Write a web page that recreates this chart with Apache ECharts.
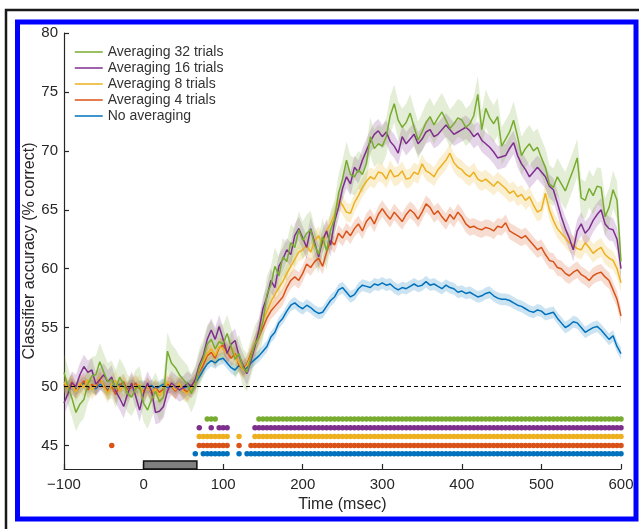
<!DOCTYPE html>
<html>
<head>
<meta charset="utf-8">
<script src="https://cdn.jsdelivr.net/npm/echarts@6/dist/echarts.min.js"></script>
<style>
html,body{margin:0;padding:0;background:#fff;}
#chart{width:639px;height:529px;}
</style>
</head>
<body>
<div id="chart"></div>
<script>
// ---- data ----
const times = [];
for (let t = -100; t <= 600; t += 5) times.push(t);

const xTicks = [-100, 0, 100, 200, 300, 400, 500, 600];
const yTicks = [45, 50, 55, 60, 65, 70, 75, 80];

const seriesNames = ['Averaging 32 trials', 'Averaging 16 trials', 'Averaging 8 trials', 'Averaging 4 trials', 'No averaging'];

const avg32 = [
51.2,50.0,49.0,47.8,48.5,48.9,50.2,50.9,51.0,52.1,51.2,50.4,50.6,49.8,50.8,50.2,49.4,49.1,49.8,50.1,
48.6,48.0,48.9,49.6,48.7,49.1,53.0,52.0,51.6,51.0,50.6,50.2,49.4,50.2,51.6,52.4,53.6,54.0,53.2,53.8,
53.6,54.5,53.4,52.3,52.8,51.6,51.2,52.5,53.6,54.2,55.5,57.8,58.6,60.2,59.4,61.0,60.6,62.2,61.8,63.3,
62.4,63.0,63.3,62.0,61.2,62.7,61.5,63.3,64.2,66.4,67.6,69.2,68.0,67.8,68.4,68.0,68.9,71.2,70.2,70.6,
70.4,71.2,73.0,74.0,72.6,72.0,72.4,73.2,72.0,70.9,71.6,72.4,72.9,72.2,72.8,73.3,72.6,71.9,72.3,72.8,
72.6,72.0,72.3,73.0,74.8,71.8,73.6,72.8,72.3,72.9,70.4,71.0,71.6,72.6,71.2,69.6,70.2,70.6,70.0,70.3,
69.4,68.6,67.2,66.9,67.8,67.2,66.6,67.5,68.4,69.4,66.0,65.8,66.8,66.2,67.0,66.9,64.4,65.2,66.7,65.8,
60.6];

const avg16 = [
48.6,49.4,50.3,50.0,51.0,51.7,51.2,51.4,50.2,50.6,51.0,50.4,50.8,49.6,49.0,48.3,49.4,50.3,49.2,48.0,
49.4,50.3,49.6,47.8,47.9,48.3,49.6,50.3,50.0,49.7,49.9,50.3,50.0,50.6,51.8,52.6,54.0,54.8,54.0,55.1,
54.0,52.8,53.6,53.9,52.6,51.8,51.1,52.2,53.4,54.8,56.6,57.6,59.0,58.4,60.2,60.8,61.6,61.2,62.8,63.4,
62.6,61.8,63.4,62.2,61.0,62.4,63.2,62.0,64.0,65.2,66.8,67.8,67.2,68.6,68.2,69.2,70.0,70.8,71.4,71.7,
71.2,71.6,70.8,70.4,69.8,71.2,70.6,71.0,71.4,70.6,71.0,71.6,71.8,71.2,71.4,71.8,72.2,71.8,71.4,71.6,
71.8,72.0,71.7,71.2,71.5,70.9,70.6,70.3,69.9,69.4,69.5,69.6,70.2,70.7,69.6,68.9,68.4,67.8,68.2,68.6,
68.2,67.8,67.0,66.7,65.6,64.4,63.4,62.6,61.6,63.2,63.8,63.0,63.4,64.1,64.6,65.0,63.8,63.4,63.3,62.5,
60.0];

const avg8 = [
50.4,49.8,50.2,49.5,50.3,49.9,50.6,49.7,50.1,50.8,50.0,49.4,50.2,50.5,49.6,50.1,49.5,50.3,49.8,50.2,
49.4,50.0,49.5,49.8,49.2,49.6,50.4,50.1,49.7,50.3,49.6,49.4,49.9,50.3,51.4,52.2,52.8,53.2,52.6,53.4,
53.2,52.8,53.3,52.6,52.0,51.4,51.8,52.6,53.6,54.4,55.6,56.4,57.2,57.8,58.4,58.9,59.6,60.2,60.8,61.4,
61.6,62.0,61.4,62.4,62.8,62.0,63.2,63.8,64.6,65.8,65.4,64.8,64.7,65.6,66.2,66.9,67.4,67.8,67.6,68.2,
68.1,67.6,68.4,67.8,67.9,68.3,67.6,67.7,68.2,68.0,68.9,68.3,68.1,67.8,68.4,68.8,69.2,69.8,69.0,68.6,
68.4,68.0,67.8,68.2,67.6,67.4,67.6,67.3,67.0,67.4,67.1,66.8,66.4,66.6,66.1,66.3,65.8,66.1,65.4,64.8,
65.0,66.4,65.0,64.1,63.4,63.0,62.6,62.2,62.0,61.7,61.6,62.2,61.8,61.3,61.6,61.8,61.2,60.9,60.7,60.0,
58.8];

const avg4 = [
50.2,49.8,50.4,49.6,50.0,50.5,49.7,50.2,49.9,50.6,50.1,49.6,50.0,49.3,50.1,50.4,49.7,49.9,50.3,49.8,
49.6,50.1,49.4,49.9,49.5,49.8,50.2,50.0,49.6,50.1,49.8,49.5,50.0,50.4,51.2,51.8,52.6,52.9,52.4,53.3,
53.5,52.9,52.4,52.8,51.8,51.5,51.9,52.8,53.6,54.2,55.0,55.8,56.4,56.8,57.2,57.6,58.4,59.0,59.3,59.0,
59.6,60.4,60.1,60.6,60.9,60.2,61.4,62.4,62.0,63.0,62.6,63.2,62.8,63.4,63.8,63.2,64.0,64.4,63.8,64.6,
65.1,64.6,64.2,64.8,64.4,64.0,64.6,65.0,64.7,64.2,64.8,65.5,65.2,64.6,64.9,64.4,64.0,64.6,64.2,64.8,
64.4,63.8,63.5,63.6,63.4,63.3,63.5,63.4,63.2,63.6,63.5,63.9,63.2,63.0,62.8,62.6,62.8,62.4,62.0,61.6,
61.8,61.2,60.7,60.6,60.1,60.0,59.6,59.4,59.7,59.9,59.5,59.3,59.0,59.4,59.6,59.7,59.3,59.0,58.2,57.4,
56.0];

const avg1 = [
50.1,49.9,50.2,49.8,50.0,50.3,49.9,50.1,49.8,50.2,50.0,49.7,50.1,49.9,50.2,50.0,49.8,50.1,49.9,50.0,
50.0,49.9,50.1,49.8,50.0,50.2,49.9,50.0,49.8,50.1,49.9,50.0,50.1,50.3,50.8,51.4,51.9,52.2,52.0,52.3,
52.4,52.0,51.6,51.4,51.8,51.5,51.6,52.0,52.3,52.6,53.0,53.4,54.2,54.6,55.4,55.8,56.4,56.9,57.1,56.8,
56.6,56.9,56.7,56.4,56.2,56.3,56.8,57.3,57.6,58.2,58.4,58.0,57.6,57.8,58.3,58.6,58.5,58.4,58.7,58.6,
58.8,58.6,58.7,58.4,58.2,58.4,58.3,58.5,58.7,58.5,58.6,58.9,58.6,58.7,58.5,58.3,58.6,58.4,58.3,58.0,
58.1,57.9,58.0,57.8,57.6,57.7,57.9,58.0,57.7,57.5,57.4,57.4,57.3,57.1,56.9,56.8,56.6,56.4,56.3,56.5,
56.4,56.1,56.2,56.3,55.8,55.4,55.0,55.2,55.5,55.4,55.0,54.6,54.8,55.0,55.1,54.8,54.4,54.0,54.3,53.4,
52.8];

// standard error half-widths (% correct)
const sem32 = 1.6, sem16 = 1.0, sem8 = 0.8, sem4 = 0.7, sem1 = 0.5;

// significance: time intervals [start, end] in msec, and the row level of each
const sig32 = [[80, 90], [145, 600]];
const sig16 = [[70, 70], [85, 85], [95, 105], [140, 600]];
const sig8  = [[70, 105], [120, 120], [140, 600]];
const sig4  = [[-40, -40], [70, 105], [120, 120], [135, 600]];
const sig1  = [[65, 65], [75, 105], [120, 120], [130, 600]];
const sigLevels = [47.25, 46.5, 45.75, 45.0, 44.3];

const chanceLevel = 50;
const stimulus = [0, 67]; // stimulus on/off (msec)

// ---- build ----
const colors = ['#77AC30', '#7E2F8E', '#EDB120', '#D95319', '#0072BD'];
const vals = [avg32, avg16, avg8, avg4, avg1];
const sems = [sem32, sem16, sem8, sem4, sem1];
const sigs = [sig32, sig16, sig8, sig4, sig1];
const FONT = 'Liberation Sans, Arial, Helvetica, sans-serif';
const textCol = '#262626';

function bandSeries(k) {
  const v = vals[k], s = sems[k];
  return {
    type: 'custom', silent: true, z: 1,
    data: [[times[0], v[0]]],
    encode: { x: 0, y: 1 },
    renderItem: function (params, api) {
      if (params.dataIndex !== 0) return null;
      const pts = [];
      for (let i = 0; i < times.length; i++) pts.push(api.coord([times[i], v[i] + s]));
      for (let i = times.length - 1; i >= 0; i--) pts.push(api.coord([times[i], v[i] - s]));
      return { type: 'polygon', shape: { points: pts }, style: { fill: colors[k], opacity: 0.2 } };
    }
  };
}

function dotSeries(k) {
  const data = [];
  sigs[k].forEach(function (iv) {
    for (let t = iv[0]; t <= iv[1]; t += 5) data.push([t, sigLevels[k]]);
  });
  return {
    type: 'scatter', name: 'sig' + k, silent: true, z: 2,
    symbol: 'circle', symbolSize: 5.5,
    itemStyle: { color: colors[k], opacity: 1 },
    data: data
  };
}

const series = [];
for (let k = 4; k >= 0; k--) series.push(bandSeries(k));
for (let k = 0; k < 5; k++) series.push(dotSeries(k));
for (let k = 4; k >= 0; k--) {
  const s = {
    type: 'line', name: seriesNames[k], z: 3,
    symbol: 'none', showSymbol: false,
    lineStyle: { color: colors[k], width: 1.5 },
    itemStyle: { color: colors[k] },
    data: times.map(function (t, i) { return [t, vals[k][i]]; })
  };
  if (k === 4) {
    s.markLine = {
      silent: true, symbol: 'none', label: { show: false },
      lineStyle: { color: '#000', type: [4, 3], width: 1.2 },
      data: [{ yAxis: chanceLevel }]
    };
  }
  series.push(s);
}
// stimulus bar
series.push({
  type: 'custom', silent: true, z: 4,
  data: [[stimulus[0], stimulus[1]]],
  encode: { x: [0, 1] },
  renderItem: function (params, api) {
    const p0 = api.coord([api.value(0), 43]);
    const p1 = api.coord([api.value(1), 43]);
    return { type: 'rect', shape: { x: p0[0], y: p0[1] - 8, width: p1[0] - p0[0], height: 8 },
      style: { fill: '#7f7f7f', stroke: '#111', lineWidth: 1.5 } };
  }
});

const chart = echarts.init(document.getElementById('chart'), null, { renderer: 'canvas' });
chart.setOption({
  animation: false,
  backgroundColor: '#fff',
  textStyle: { fontFamily: FONT },
  grid: { left: 64, right: 18, top: 33, bottom: 60, containLabel: false },
  legend: {
    data: seriesNames, orient: 'vertical', left: 74, top: 45,
    itemWidth: 28, itemHeight: 14, itemGap: 2, padding: 0,
    itemStyle: { opacity: 0, borderWidth: 0 },
    lineStyle: { width: 1.5 },
    textStyle: { fontSize: 14, color: '#333', fontFamily: FONT }
  },
  xAxis: {
    type: 'value', min: -100, max: 600, interval: 100,
    name: 'Time (msec)', nameLocation: 'middle', nameGap: 28, nameMoveOverlap: false,
    nameTextStyle: { fontSize: 16, color: textCol, fontFamily: FONT },
    axisLine: { onZero: false, lineStyle: { color: textCol, width: 1.2 } },
    axisTick: { inside: true, length: 5, lineStyle: { color: textCol, width: 1.2 } },
    axisLabel: { fontSize: 15, color: textCol, margin: 8, fontFamily: FONT,
      formatter: function (v) { return v < 0 ? '\u2212' + Math.abs(v) : String(v); } },
    splitLine: { show: false }
  },
  yAxis: {
    type: 'value', min: 43, max: 80,
    name: 'Classifier accuracy (% correct)', nameLocation: 'middle', nameGap: 26, nameMoveOverlap: false,
    nameTextStyle: { fontSize: 16, color: textCol, fontFamily: FONT },
    axisLine: { show: true, onZero: false, lineStyle: { color: textCol, width: 1.2 } },
    axisTick: { show: true, inside: true, length: 5, customValues: yTicks, lineStyle: { color: textCol, width: 1.2 } },
    axisLabel: { fontSize: 15, color: textCol, margin: 6, customValues: yTicks, fontFamily: FONT },
    splitLine: { show: false }
  },
  graphic: [
    { type: 'rect', silent: true, z: 100, shape: { x: 6, y: 10, width: 700, height: 600 },
      style: { fill: 'none', stroke: '#1a1a1a', lineWidth: 2.5 } },
    { type: 'rect', silent: true, z: 100, shape: { x: 17.5, y: 22, width: 618.5, height: 497 },
      style: { fill: 'none', stroke: '#0000ff', lineWidth: 5 } }
  ],
  series: series
});
</script>
</body>
</html>
